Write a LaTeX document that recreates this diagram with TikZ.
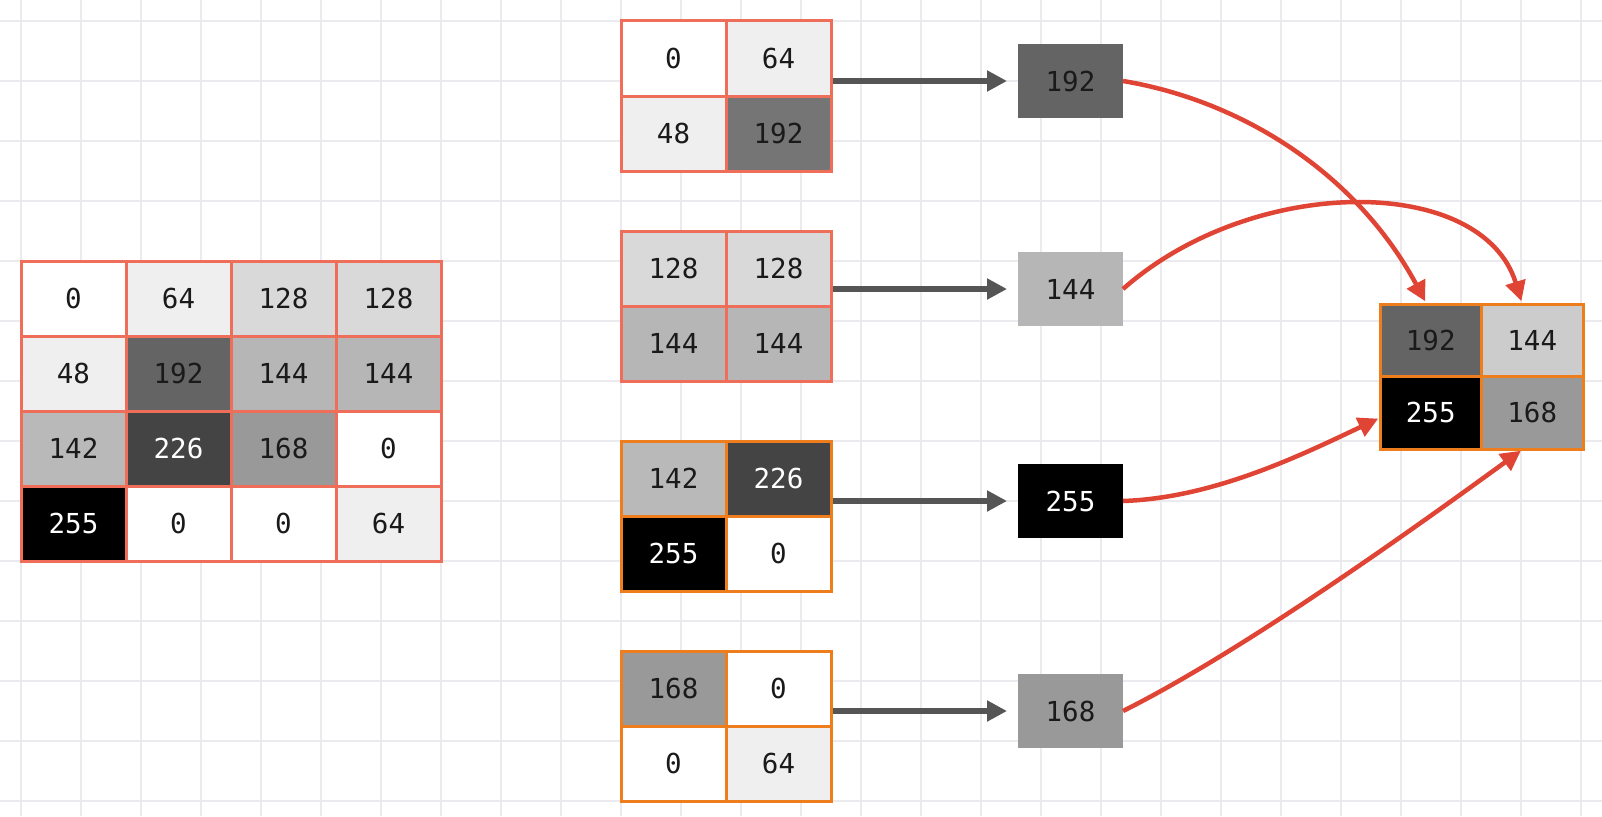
\documentclass[tikz,border=0pt]{standalone}
\usepackage{fontspec}
\newfontfamily\numfont{DejaVu Sans Mono}
\usetikzlibrary{arrows.meta}
\definecolor{gridc}{HTML}{EBEAEE}
\definecolor{salmon}{HTML}{EF6E5A}
\definecolor{orng}{HTML}{EE7D1E}
\definecolor{arrgray}{HTML}{555555}
\definecolor{redc}{HTML}{E04434}
\definecolor{txt}{HTML}{1A1A1A}
\definecolor{cA}{HTML}{FFFFFF}
\definecolor{cB}{HTML}{EFEFEF}
\definecolor{cC}{HTML}{D9D9D9}
\definecolor{cD}{HTML}{646464}
\definecolor{cDb}{HTML}{757575}
\definecolor{cE}{HTML}{B6B6B6}
\definecolor{cF}{HTML}{B9B9B9}
\definecolor{cG}{HTML}{444444}
\definecolor{cH}{HTML}{999999}
\definecolor{cK}{HTML}{000000}
\definecolor{cL}{HTML}{CCCCCC}
\tikzset{
  gridline/.style={draw=gridc, line width=2pt},
  cell/.style={line width=3pt, minimum width=105pt, minimum height=75pt, inner sep=0pt, outer sep=0pt,
    text=txt, font=\numfont\fontsize{27.5}{27.5}\selectfont},
  wt/.style={text=white},
  scell/.style={cell, draw=salmon},
  ocell/.style={cell, draw=orng},
  fcell/.style={ocell, minimum width=101.5pt, minimum height=72.5pt},
  outbox/.style={cell, draw=none, minimum width=105pt, minimum height=74pt},
  grayarrow/.style={draw=arrgray, line width=5.5pt, -{Triangle[length=20pt,width=20pt]}, shorten <=2pt, shorten >=11pt},
  redarrow/.style={draw=redc, line width=4.5pt, -{Triangle[length=20pt,width=20pt]}, shorten >=3pt}
}
\begin{document}
\begin{tikzpicture}[x=1pt,y=-1pt]
\useasboundingbox (0,0) rectangle (1602,816);
\fill[white] (0,0) rectangle (1602,816);
\foreach \i in {0,...,26} \draw[gridline] ({21+60*\i},0) -- ({21+60*\i},816);
\foreach \j in {0,...,13} \draw[gridline] (0,{21+60*\j}) -- (1602,{21+60*\j});

% input 4x4 matrix
\node[scell, fill=cA] (m11) at (73.5,298.5) {0};
\node[scell, fill=cB] (m12) at (178.5,298.5) {64};
\node[scell, fill=cC] (m13) at (283.5,298.5) {128};
\node[scell, fill=cC] (m14) at (388.5,298.5) {128};
\node[scell, fill=cB] (m21) at (73.5,373.5) {48};
\node[scell, fill=cD] (m22) at (178.5,373.5) {192};
\node[scell, fill=cE] (m23) at (283.5,373.5) {144};
\node[scell, fill=cE] (m24) at (388.5,373.5) {144};
\node[scell, fill=cF] (m31) at (73.5,448.5) {142};
\node[scell, fill=cG, wt] (m32) at (178.5,448.5) {226};
\node[scell, fill=cH] (m33) at (283.5,448.5) {168};
\node[scell, fill=cA] (m34) at (388.5,448.5) {0};
\node[scell, fill=cK, wt] (m41) at (73.5,523.5) {255};
\node[scell, fill=cA] (m42) at (178.5,523.5) {0};
\node[scell, fill=cA] (m43) at (283.5,523.5) {0};
\node[scell, fill=cB] (m44) at (388.5,523.5) {64};

% block 1
\node[scell, fill=cA] (p1a) at (673.5,58.5) {0};
\node[scell, fill=cB] (p1b) at (778.5,58.5) {64};
\node[scell, fill=cB] (p1c) at (673.5,133.5) {48};
\node[scell, fill=cDb] (p1d) at (778.5,133.5) {192};
% block 2
\node[scell, fill=cC] (p2a) at (673.5,268.5) {128};
\node[scell, fill=cC] (p2b) at (778.5,268.5) {128};
\node[scell, fill=cE] (p2c) at (673.5,343.5) {144};
\node[scell, fill=cE] (p2d) at (778.5,343.5) {144};
% block 3
\node[ocell, fill=cF] (p3a) at (673.5,478.5) {142};
\node[ocell, fill=cG, wt] (p3b) at (778.5,478.5) {226};
\node[ocell, fill=cK, wt] (p3c) at (673.5,553.5) {255};
\node[ocell, fill=cA] (p3d) at (778.5,553.5) {0};
% block 4
\node[ocell, fill=cH] (p4a) at (673.5,688.5) {168};
\node[ocell, fill=cA] (p4b) at (778.5,688.5) {0};
\node[ocell, fill=cA] (p4c) at (673.5,763.5) {0};
\node[ocell, fill=cB] (p4d) at (778.5,763.5) {64};

% pooled values
\node[outbox, fill=cD] (o1) at (1070.5,81) {192};
\node[outbox, fill=cE] (o2) at (1070.5,289) {144};
\node[outbox, fill=cK, wt] (o3) at (1070.5,501) {255};
\node[outbox, fill=cH] (o4) at (1070.5,711) {168};

% output 2x2 matrix
\node[fcell, fill=cD] (f1) at (1430.75,340.25) {192};
\node[fcell, fill=cL] (f2) at (1532.25,340.25) {144};
\node[fcell, fill=cK, wt] (f3) at (1430.75,412.75) {255};
\node[fcell, fill=cH] (f4) at (1532.25,412.75) {168};

% gray arrows
\draw[grayarrow] (o1.west -| p1b.east) -- (o1.west);
\draw[grayarrow] (o2.west -| p2b.east) -- (o2.west);
\draw[grayarrow] (o3.west -| p3b.east) -- (o3.west);
\draw[grayarrow] (o4.west -| p4b.east) -- (o4.west);

% red arrows
\draw[redarrow] (o1.east) .. controls +(120,20) and +(-70,-130) .. ([xshift=-4pt]f1.north);
\draw[redarrow] (o2.east) .. controls +(130,-115) and +(-40,-130) .. ([xshift=-10pt]f2.north);
\draw[redarrow, shorten >=2pt] (o3.east) .. controls +(90,-3) and +(-80,38) .. ([yshift=-5pt]f3.west);
\draw[redarrow] (o4.east) .. controls +(120,-60) and +(-110,80) .. ([xshift=-9pt]f4.south);
\end{tikzpicture}
\end{document}
